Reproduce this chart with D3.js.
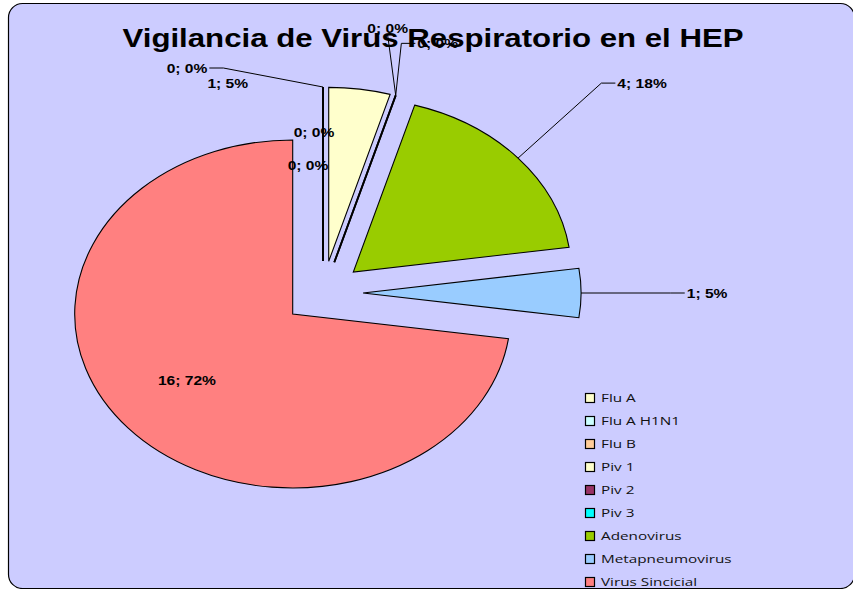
<!DOCTYPE html>
<html lang="es">
  <head>
    <meta charset="utf-8" />
    <title>Vigilancia de Virus Respiratorio en el HEP</title>
    <script src="https://d3js.org/d3.v7.min.js"></script>
    <style>
      body { margin: 0; background: #fff; }
      svg { display: block; }
    </style>
  </head>
  <body>
    <div id="chart"></div>
    <script>
      // Data
      const categories = [
        "Flu A",
        "Flu A H1N1",
        "Flu B",
        "Piv 1",
        "Piv 2",
        "Piv 3",
        "Adenovirus",
        "Metapneumovirus",
        "Virus Sincicial",
      ];
      const counts = [0, 0, 0, 1, 0, 0, 4, 1, 16];
      const percents = [0, 0, 0, 5, 0, 0, 18, 5, 72];
      const sliceColors = [
        "#FFFFCC", "#CCFFFF", "#FFCC99", "#FFFFCC", "#993366",
        "#00FFFF", "#99CC00", "#99CCFF", "#FF8080",
      ];

      // Label nudges (px from the slice's outer midpoint) and leader side
      const labelLayout = [
        { dx: -136, dy: -19, leader: "right" },
        { dx: -9, dy: 45, leader: null },
        { dx: -15, dy: 78, leader: null },
        { dx: -132, dy: -6, leader: null },
        { dx: -8, dy: -67, leader: "bottom" },
        { dx: 42, dy: -52, leader: "left" },
        { dx: 124, dy: -75, leader: "left" },
        { dx: 126, dy: 0, leader: "left" },
        { dx: 59, dy: -48, leader: null },
      ];

      const width = 853, height = 589;
      const cx = 323, cy = 293;
      const radius = 174;        // vertical radius
      const stretch = 218 / 174; // pie is wider than tall
      const explode = 32;
      const textStretch = 1.2;

      const rows = categories.map((c, i) => ({
        name: c, count: counts[i], pct: percents[i], layout: labelLayout[i],
      }));

      const color = d3.scaleOrdinal().domain(categories).range(sliceColors);

      const svg = d3.select("#chart").append("svg")
        .attr("width", width).attr("height", height);

      // Chart area background
      svg.append("rect")
        .attr("x", 8.5).attr("y", 3.5)
        .attr("width", 846).attr("height", 585)
        .attr("rx", 14).attr("ry", 14)
        .attr("fill", "#CCCCFF")
        .attr("stroke", "#000").attr("stroke-width", 1.2);

      // Title
      svg.append("text")
        .attr("transform", `translate(433,47) scale(${textStretch},1)`)
        .attr("text-anchor", "middle")
        .style("font-family", "'Liberation Sans', Arial, sans-serif")
        .style("font-weight", "bold")
        .style("font-size", "26px")
        .text("Vigilancia de Virus Respiratorio en el HEP");

      const pie = d3.pie().sort(null).value((d) => d.count);
      const arcs = pie(rows);
      const arc = d3.arc().innerRadius(0).outerRadius(radius);
      const mid = (d) => (d.startAngle + d.endAngle) / 2;

      const pieG = svg.append("g")
        .attr("transform", `translate(${cx},${cy}) scale(${stretch},1)`);

      pieG.selectAll("path")
        .data(arcs)
        .join("path")
        .attr("transform", (d) =>
          `translate(${explode * Math.sin(mid(d))},${-explode * Math.cos(mid(d))})`)
        .attr("d", arc)
        .attr("fill", (d) => color(d.data.name))
        .attr("stroke", "#000")
        .attr("stroke-width", (d) => (d.data.count === 0 ? 1.8 : 1.1))
        .attr("stroke-linejoin", "miter")
        .attr("vector-effect", "non-scaling-stroke");

      // Data labels with leader lines
      const leaderG = svg.append("g");
      const labelG = svg.append("g");

      arcs.forEach((d) => {
        const a = mid(d);
        const ax = cx + stretch * (explode + radius) * Math.sin(a);
        const ay = cy - (explode + radius) * Math.cos(a);
        const lay = d.data.layout;
        const lx = ax + lay.dx, ly = ay + lay.dy;

        const t = labelG.append("text")
          .attr("transform", `translate(${lx},${ly}) scale(${textStretch},1)`)
          .attr("text-anchor", "middle")
          .attr("dy", "0.36em")
          .style("font-family", "'Liberation Sans', Arial, sans-serif")
          .style("font-weight", "bold")
          .style("font-size", "13px")
          .attr("fill", "#000")
          .text(`${d.data.count}; ${d.data.pct}%`);

        if (!lay.leader) return;
        const w = t.node().getComputedTextLength() * textStretch;
        let pts;
        if (lay.leader === "right") {
          pts = [[ax, ay], [lx + w / 2 + 16, ly], [lx + w / 2 + 2, ly]];
        } else if (lay.leader === "left") {
          pts = [[ax, ay], [lx - w / 2 - 16, ly], [lx - w / 2 - 2, ly]];
        } else {
          pts = [[ax, ay], [lx, ly + 7]];
        }
        leaderG.append("path")
          .attr("d", d3.line()(pts))
          .attr("fill", "none")
          .attr("stroke", "#000")
          .attr("stroke-width", 1);
      });

      // Legend
      const legend = svg.append("g").attr("transform", "translate(585,398)");
      const item = legend.selectAll("g")
        .data(categories)
        .join("g")
        .attr("transform", (d, i) => `translate(0,${i * 23})`);

      item.append("rect")
        .attr("x", 0.5).attr("y", -4.5)
        .attr("width", 9).attr("height", 9)
        .attr("fill", (d) => color(d))
        .attr("stroke", "#000")
        .attr("stroke-width", 1.2);

      item.append("text")
        .attr("transform", `translate(16,4) scale(1.33,1)`)
        .style("font-family", "'Open Sans', sans-serif")
        .style("font-size", "11.5px")
        .attr("fill", "#111")
        .text((d) => d);
    </script>
  </body>
</html>
